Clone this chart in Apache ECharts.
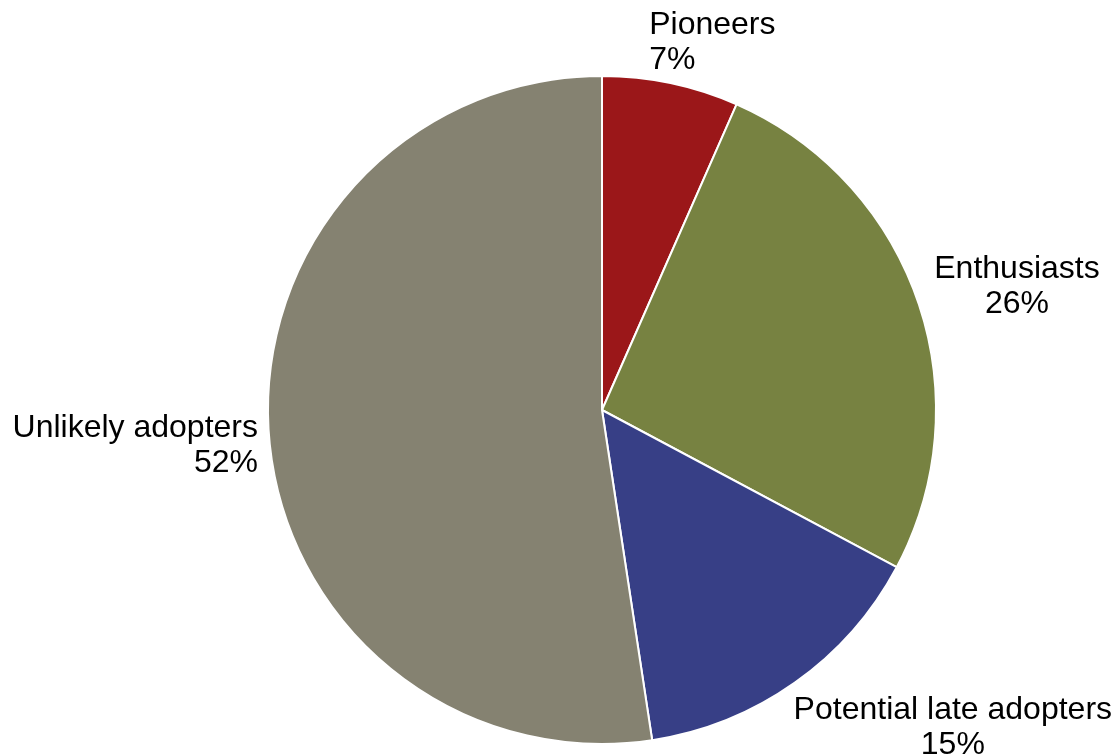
<!DOCTYPE html>
<html>
<head>
<meta charset="utf-8">
<script src="https://cdn.jsdelivr.net/npm/echarts@6/dist/echarts.min.js"></script>
<style>
  html, body { margin: 0; padding: 0; background: #fff; }
  #chart { width: 1115px; height: 755px; }
</style>
</head>
<body>
<div id="chart"></div>
<script>
// segments, clockwise from 12 o'clock
var categories = ['Pioneers', 'Enthusiasts', 'Potential late adopters', 'Unlikely adopters'];
var shares = [6.6, 26.2, 14.8, 52.4];
var colors = ['#9b1719', '#778241', '#373f86', '#858271'];

// label tweaks so they sit like the excel original
var labelAlign = ['left', 'center', 'center', 'right'];
var labelShift = [[-29, -29], [83, -10], [146, 35], [6, 10]];

var chart = echarts.init(document.getElementById('chart'));

var pieData = categories.map(function (name, i) {
  return { name: name, value: shares[i], itemStyle: { color: colors[i] } };
});

chart.setOption({
  animation: false,
  series: [{
    type: 'pie',
    center: [602, 410],
    radius: [0, 334],
    startAngle: 90,
    clockwise: true,
    avoidLabelOverlap: false,
    itemStyle: { borderColor: '#fff', borderWidth: 2 },
    label: {
      show: true,
      position: 'outside',
      color: '#000',
      fontFamily: 'Liberation Sans, Arial, sans-serif',
      fontSize: 32,
      lineHeight: 35,
      formatter: function (p) {
        return p.name + '\n' + Math.round(p.percent) + '%';
      }
    },
    labelLine: { show: false, length: 12, length2: 0 },
    labelLayout: function (p) {
      var i = p.dataIndex;
      return { align: labelAlign[i], dx: labelShift[i][0], dy: labelShift[i][1] };
    },
    data: pieData
  }]
});
</script>
</body>
</html>
